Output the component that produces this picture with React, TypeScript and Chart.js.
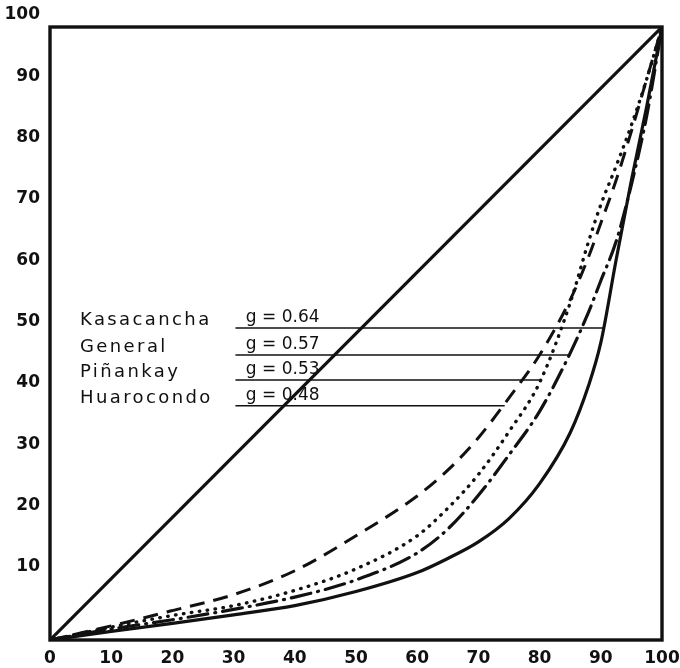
import React, { useEffect, useRef } from "react";
import { Chart, registerables } from "chart.js";

Chart.register(...registerables);

// Cumulative % of population (x) shared by all curves
const xPercent = [0, 10, 20, 30, 40, 50, 60, 65, 70, 75, 80, 85, 88, 90, 92.5, 95, 97.5, 100];
// Cumulative % of land (y) for each community (Lorenz curves)
const kasacancha = [0, 1.4, 2.7, 4.1, 5.6, 7.9, 11.0, 13.3, 16, 19.8, 25.5, 33.8, 41.5, 48.5, 62, 75, 87, 100];
const general = [0, 1.8, 3.3, 5.0, 7.0, 9.8, 14.2, 18.1, 23.6, 30.2, 37.3, 46.8, 53.5, 58.6, 65, 74.3, 85.5, 100];
const pinankay = [0, 2.1, 4.0, 5.6, 8.1, 11.6, 17, 21.5, 27, 34, 42, 55, 65, 71, 77.3, 84, 91.5, 100];
const huarocondo = [0, 2.3, 4.8, 7.4, 11.3, 17, 23.5, 27.7, 33, 39.5, 46.5, 55.5, 62.5, 68, 75, 83, 91.5, 100];
// Line of equality
const equalityX = [0, 100];
const equalityY = [0, 100];

// Labels
const legendNames = ["Kasacancha", "General", "Piñankay", "Huarocondo"];
const giniValues = ["0.64", "0.57", "0.53", "0.48"];
const leaderY = [50.9, 46.5, 42.4, 38.2];
const leaderXStart = 30.3;
const leaderXEnd = [90.6, 85, 80.3, 74.3];

// Ticks
const xTicks = [0, 10, 20, 30, 40, 50, 60, 70, 80, 90, 100];
const yTicks = [10, 20, 30, 40, 50, 60, 70, 80, 90, 100];

const NAME_X = 4.9;
const GINI_X = 32;

function pts(xs: number[], ys: number[]) {
  return xs.map((x, i) => ({ x, y: ys[i] }));
}

export default function App() {
  const ref = useRef<HTMLCanvasElement | null>(null);

  useEffect(() => {
    if (!ref.current) return;
    const curveBase = {
      pointRadius: 0,
      borderColor: "#111",
      fill: false,
      cubicInterpolationMode: "monotone" as const,
    };
    const leaderSets = legendNames.map((_, i) => ({
      data: pts([leaderXStart, leaderXEnd[i]], [leaderY[i], leaderY[i]]),
      borderColor: "#111",
      borderWidth: 1.5,
      pointRadius: 0,
      fill: false,
    }));

    const framePlugin = {
      id: "frameAndText",
      afterDatasetsDraw(chart: any) {
        const { ctx, chartArea, scales } = chart;
        ctx.save();
        ctx.strokeStyle = "#111";
        ctx.lineWidth = 3.4;
        ctx.strokeRect(chartArea.left, chartArea.top, chartArea.right - chartArea.left, chartArea.bottom - chartArea.top);
        ctx.fillStyle = "#111";
        legendNames.forEach((name, i) => {
          const y = scales.y.getPixelForValue(leaderY[i]);
          ctx.font = "18px 'DejaVu Sans'";
          (ctx as any).letterSpacing = "2.4px";
          ctx.textAlign = "left";
          ctx.textBaseline = "alphabetic";
          ctx.fillText(name, scales.x.getPixelForValue(NAME_X), y - 3);
          (ctx as any).letterSpacing = "0px";
          ctx.font = "17px 'DejaVu Sans'";
          ctx.fillText("g = " + giniValues[i], scales.x.getPixelForValue(GINI_X), y - 6);
        });
        ctx.restore();
      },
    };

    const chart = new Chart(ref.current, {
      type: "line",
      data: {
        datasets: [
          { ...curveBase, data: pts(equalityX, equalityY), borderWidth: 3.2, cubicInterpolationMode: "default" as const },
          { ...curveBase, data: pts(xPercent, kasacancha), borderWidth: 3.2 },
          { ...curveBase, data: pts(xPercent, general), borderWidth: 3.2, borderDash: [20, 7, 1, 7], borderCapStyle: "round" as const },
          { ...curveBase, data: pts(xPercent, pinankay), borderWidth: 3.4, borderDash: [0.5, 7.5], borderCapStyle: "round" as const },
          { ...curveBase, data: pts(xPercent, huarocondo), borderWidth: 3, borderDash: [15, 9] },
          ...leaderSets,
        ],
      },
      options: {
        animation: false,
        responsive: true,
        maintainAspectRatio: false,
        layout: { padding: { top: 27, right: 18, left: 0, bottom: 0 } },
        plugins: { legend: { display: false }, tooltip: { enabled: false } },
        scales: {
          x: {
            type: "linear",
            min: 0,
            max: 100,
            afterFit: (s: any) => { s.height = 28; s.paddingLeft = 0; s.paddingRight = 0; },
            afterBuildTicks: (s: any) => { s.ticks = xTicks.map((v) => ({ value: v })); },
            grid: { display: false, drawTicks: false, tickLength: 0 },
            border: { display: false },
            ticks: {
              autoSkip: false,
              maxRotation: 0,
              padding: 8,
              color: "#111",
              font: { family: "'DejaVu Sans'", size: 17, weight: "bold" },
            },
          },
          y: {
            type: "linear",
            min: 0,
            max: 100,
            afterFit: (s: any) => { s.width = 50; s.paddingTop = 0; s.paddingBottom = 0; },
            afterBuildTicks: (s: any) => { s.ticks = yTicks.map((v) => ({ value: v })); },
            grid: { display: false, drawTicks: false, tickLength: 0 },
            border: { display: false },
            ticks: {
              autoSkip: false,
              padding: 10,
              labelOffset: -12,
              color: "#111",
              font: { family: "'DejaVu Sans'", size: 17, weight: "bold" },
            },
          },
        },
      },
      plugins: [framePlugin],
    });
    return () => chart.destroy();
  }, []);

  return (
    <div style={{ position: "fixed", left: 0, top: 0, width: 680, height: 668, background: "#fff" }}>
      <canvas ref={ref} />
    </div>
  );
}
